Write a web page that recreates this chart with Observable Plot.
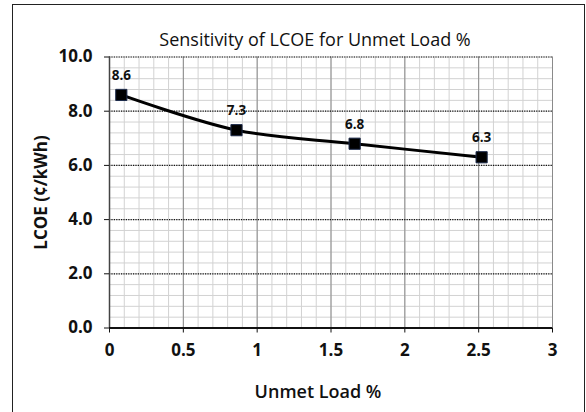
<!DOCTYPE html>
<html>
<head>
<meta charset="utf-8">
<script src="https://cdn.jsdelivr.net/npm/d3@7"></script>
<script src="https://cdn.jsdelivr.net/npm/@observablehq/plot@0.6"></script>
<style>
  html, body { margin: 0; padding: 0; background: #fff; }
  #wrap { position: relative; width: 586px; height: 412px; overflow: hidden; }
  #border { position: absolute; left: 12px; top: 4px; width: 571px; height: 430px; border: 1.5px solid #222; pointer-events: none; }
</style>
</head>
<body>
<div id="wrap"><div id="border"></div></div>
<script>
const unmetLoad = [0.08, 0.86, 1.66, 2.52];
const lcoe = [8.6, 7.3, 6.8, 6.3];
const pointLabels = ["8.6", "7.3", "6.8", "6.3"];
const xTicks = [0, 0.5, 1, 1.5, 2, 2.5, 3];
const xTickLabels = ["0", "0.5", "1", "1.5", "2", "2.5", "3"];
const yTicks = [0, 2, 4, 6, 8, 10];
const yTickLabels = ["0.0", "2.0", "4.0", "6.0", "8.0", "10.0"];
const title = "Sensitivity of LCOE for Unmet Load %";
const xLabel = "Unmet Load %";
const yLabel = "LCOE (¢/kWh)";

const data = unmetLoad.map((x, i) => ({x, y: lcoe[i], label: pointLabels[i]}));
const minorX = d3.range(0, 31).map(i => i / 10);
const minorY = d3.range(0, 26).map(i => +(i * 0.4).toFixed(1));

const font = "'Open Sans', sans-serif";

const chart = Plot.plot({
  width: 586,
  height: 412,
  marginLeft: 109,
  marginRight: 34,
  marginTop: 56.5,
  marginBottom: 84.5,
  style: {fontFamily: font, fontSize: "17px", fontWeight: "bold", background: "transparent", color: "#111", overflow: "visible"},
  x: {domain: [0, 3]},
  y: {domain: [0, 10]},
  marks: [
    Plot.ruleX(minorX, {stroke: "#d2d2d2", strokeWidth: 1}),
    Plot.ruleY(minorY, {stroke: "#d2d2d2", strokeWidth: 1}),
    Plot.ruleX(xTicks, {stroke: "#8a8a8a", strokeWidth: 1}),
    Plot.ruleY(yTicks, {stroke: "#111", strokeWidth: 1.2, strokeDasharray: "1.2,1.2"}),
    Plot.ruleX([0], {stroke: "#444", strokeWidth: 1.5}),
    Plot.ruleY([0], {stroke: "#111", strokeWidth: 2}),
    Plot.axisX(xTicks, {tickSize: 5, tickPadding: 11, tickFormat: (d, i) => xTickLabels[i], label: null, fontSize: 17, fontWeight: "bold"}),
    Plot.axisY(yTicks, {tickSize: 5, tickPadding: 12, tickFormat: (d, i) => yTickLabels[i], label: null, fontSize: 17, fontWeight: "bold"}),
    Plot.line(data, {x: "x", y: "y", stroke: "#000", strokeWidth: 3, curve: "catmull-rom"}),
    Plot.dot(data, {x: "x", y: "y", symbol: "square", r: 6.3, fill: "#000", stroke: "#1c2a4a", strokeWidth: 1}),
    Plot.text(data, {x: "x", y: "y", text: "label", dy: -15, lineAnchor: "bottom", fontSize: 13.5, fontWeight: "bold", fill: "#111"}),
    Plot.text([title], {frameAnchor: "top", dx: -16, dy: -11, lineAnchor: "bottom", fontSize: 18, fontWeight: "500", fill: "#111"}),
    Plot.text([xLabel], {frameAnchor: "bottom", dx: -13, dy: 64, lineAnchor: "middle", fontSize: 18, fontWeight: "600", fill: "#111"}),
    Plot.text([yLabel], {frameAnchor: "left", dx: -68, rotate: -90, textAnchor: "middle", lineAnchor: "middle", fontSize: 17, fontWeight: "bold", fill: "#111"})
  ]
});
document.getElementById("wrap").prepend(chart);
</script>
</body>
</html>
